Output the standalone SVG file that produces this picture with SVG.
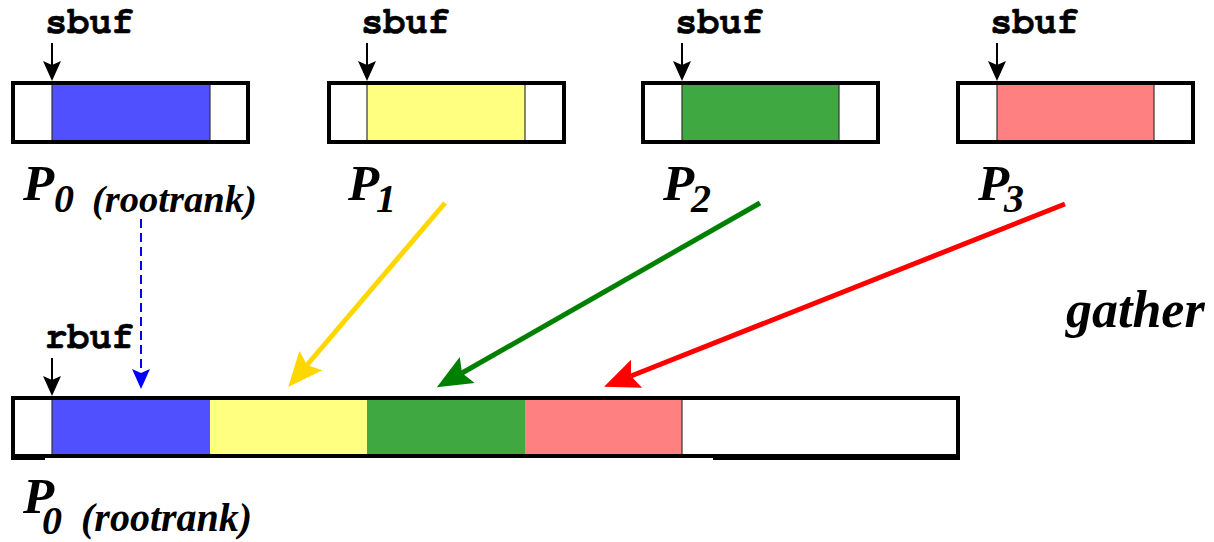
<svg xmlns="http://www.w3.org/2000/svg" width="1214" height="542" viewBox="0 0 1214 542">
  <style>
    .frame { fill: none; stroke: #000; stroke-width: 4; }
    .sep { stroke: #333; stroke-width: 1.2; }
    .blue { fill: #5050ff; }
    .yellow { fill: #ffff80; }
    .green { fill: #40a840; }
    .pink { fill: #ff8080; }
    .mono { font-family: "Nimbus Mono PS", "FreeMono", "Courier", "Liberation Mono", monospace; font-weight: bold; font-size: 37px; fill: #000; stroke: #000; stroke-width: 0.6; }
    .proc { font-family: "Liberation Serif", "Times New Roman", "Tinos", "Nimbus Roman", "DejaVu Serif", serif; font-weight: bold; font-style: italic; fill: #000; }
    .ptr { stroke: #000; stroke-width: 2; fill: none; }
  </style>
  <defs>
    <marker id="head-black" markerUnits="userSpaceOnUse" orient="auto" overflow="visible" markerWidth="40" markerHeight="40" refX="0" refY="0">
      <path d="M16,0 L-4,-9 L0,0 L-4,9 Z" fill="#000"/>
    </marker>
    <marker id="head-blue" markerUnits="userSpaceOnUse" orient="auto" overflow="visible" markerWidth="40" markerHeight="40" refX="0" refY="0">
      <path d="M16,0 L-4,-9 L0,0 L-4,9 Z" fill="#0000ff"/>
    </marker>
    <marker id="head-gold" markerUnits="userSpaceOnUse" orient="auto" overflow="visible" markerWidth="60" markerHeight="60" refX="0" refY="0">
      <path d="M29,0 L-6,-15 L0,0 L-6,15 Z" fill="#ffd700"/>
    </marker>
    <marker id="head-green" markerUnits="userSpaceOnUse" orient="auto" overflow="visible" markerWidth="60" markerHeight="60" refX="0" refY="0">
      <path d="M29,0 L-6,-15 L0,0 L-6,15 Z" fill="#008000"/>
    </marker>
    <marker id="head-red" markerUnits="userSpaceOnUse" orient="auto" overflow="visible" markerWidth="60" markerHeight="60" refX="0" refY="0">
      <path d="M29,0 L-6,-15 L0,0 L-6,15 Z" fill="#ff0000"/>
    </marker>
  </defs>

  <rect width="1214" height="542" fill="#fff"/>

  <!-- send buffer of process 0 -->
  <g id="p0-send">
    <text class="mono" x="45" y="33">sbuf</text>
    <line class="ptr" x1="52" y1="43" x2="52" y2="65" marker-end="url(#head-black)"/>
    <rect x="13" y="83" width="235" height="59" fill="#fff"/>
    <rect class="blue" x="52" y="83" width="158" height="59"/>
    <line class="sep" x1="52" y1="83" x2="52" y2="142"/>
    <line class="sep" x1="210" y1="83" x2="210" y2="142"/>
    <rect class="frame" x="13" y="83" width="235" height="59"/>
    <text class="proc" x="23" y="200" font-size="51">P<tspan x="54" y="212" font-size="40">0</tspan></text>
    <text class="proc" x="92" y="212" font-size="38.5">(rootrank)</text>
  </g>

  <!-- send buffer of process 1 -->
  <g id="p1-send">
    <text class="mono" x="361" y="33">sbuf</text>
    <line class="ptr" x1="367" y1="43" x2="367" y2="65" marker-end="url(#head-black)"/>
    <rect x="329" y="83" width="235" height="59" fill="#fff"/>
    <rect class="yellow" x="367" y="83" width="158" height="59"/>
    <line class="sep" x1="367" y1="83" x2="367" y2="142"/>
    <line class="sep" x1="525" y1="83" x2="525" y2="142"/>
    <rect class="frame" x="329" y="83" width="235" height="59"/>
    <text class="proc" x="348" y="200" font-size="51">P<tspan x="376" y="212" font-size="40">1</tspan></text>
  </g>

  <!-- send buffer of process 2 -->
  <g id="p2-send">
    <text class="mono" x="675" y="33">sbuf</text>
    <line class="ptr" x1="682" y1="43" x2="682" y2="65" marker-end="url(#head-black)"/>
    <rect x="643" y="83" width="235" height="59" fill="#fff"/>
    <rect class="green" x="682" y="83" width="157" height="59"/>
    <line class="sep" x1="682" y1="83" x2="682" y2="142"/>
    <line class="sep" x1="839" y1="83" x2="839" y2="142"/>
    <rect class="frame" x="643" y="83" width="235" height="59"/>
    <text class="proc" x="663" y="200" font-size="51">P<tspan x="691" y="212" font-size="40">2</tspan></text>
  </g>

  <!-- send buffer of process 3 -->
  <g id="p3-send">
    <text class="mono" x="990" y="33">sbuf</text>
    <line class="ptr" x1="997" y1="43" x2="997" y2="65" marker-end="url(#head-black)"/>
    <rect x="958" y="83" width="235" height="59" fill="#fff"/>
    <rect class="pink" x="997" y="83" width="157" height="59"/>
    <line class="sep" x1="997" y1="83" x2="997" y2="142"/>
    <line class="sep" x1="1154" y1="83" x2="1154" y2="142"/>
    <rect class="frame" x="958" y="83" width="235" height="59"/>
    <text class="proc" x="978" y="200" font-size="51">P<tspan x="1004" y="212" font-size="40">3</tspan></text>
  </g>

  <!-- receive buffer on the root -->
  <g id="p0-recv">
    <text class="mono" x="45" y="348">rbuf</text>
    <line class="ptr" x1="52" y1="358" x2="52" y2="380" marker-end="url(#head-black)"/>
    <rect x="13" y="398" width="945" height="58" fill="#fff"/>
    <rect class="blue" x="52" y="398" width="158" height="58"/>
    <rect class="yellow" x="210" y="398" width="157" height="58"/>
    <rect class="green" x="367" y="398" width="158" height="58"/>
    <rect class="pink" x="525" y="398" width="157" height="58"/>
    <line class="sep" x1="52" y1="398" x2="52" y2="456"/>
    <line class="sep" x1="682" y1="398" x2="682" y2="456"/>
    <rect class="frame" x="13" y="398" width="945" height="58"/>
    <line x1="11" y1="459" x2="45" y2="459" stroke="#000" stroke-width="2"/>
    <line x1="713" y1="459" x2="960" y2="459" stroke="#000" stroke-width="2"/>
    <text class="proc" x="23" y="513" font-size="51">P<tspan x="42" y="534" font-size="40">0</tspan></text>
    <text class="proc" x="81" y="531" font-size="40">(rootrank)</text>
  </g>

  <g id="operation">
    <text class="proc" x="1066" y="327" font-size="52">gather</text>
  </g>

  <!-- data movement -->
  <g id="connectors">
    <line x1="141" y1="219" x2="141" y2="373" stroke="#0000ff" stroke-width="2" stroke-dasharray="9 5" marker-end="url(#head-blue)"/>
    <line x1="445" y1="203" x2="307" y2="365" stroke="#ffd700" stroke-width="5" marker-end="url(#head-gold)"/>
    <line x1="760" y1="203" x2="462" y2="373" stroke="#008000" stroke-width="5" marker-end="url(#head-green)"/>
    <line x1="1065" y1="204" x2="631" y2="376" stroke="#ff0000" stroke-width="5" marker-end="url(#head-red)"/>
  </g>
</svg>
